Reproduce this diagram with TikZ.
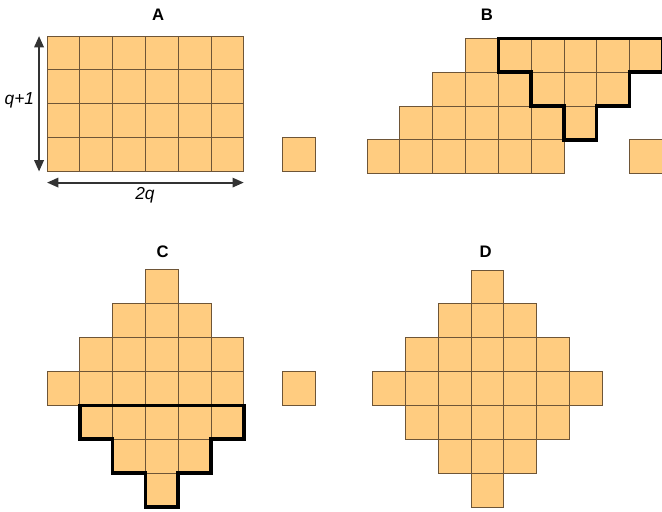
\documentclass[tikz,border=0pt]{standalone}
\usepackage{fontspec}
\setmainfont{Liberation Sans}
\definecolor{cellfill}{RGB}{255,204,128}
\definecolor{celledge}{RGB}{110,85,55}
\definecolor{dimgray}{RGB}{51,51,51}
\usetikzlibrary{arrows.meta}

\begin{document}
\begin{tikzpicture}[
  x=24.6pt, y=-25.4pt,
  cell/.style={fill=cellfill, draw=celledge, line width=0.6pt},
  outline/.style={draw=black, line width=2.6pt, line join=miter},
  dimarrow/.style={draw=dimgray, line width=1.6pt, {Triangle[length=8.5pt,width=7pt]}-{Triangle[length=8.5pt,width=7pt]}},
  panel/.style={font=\fontsize{12.5}{14}\selectfont\bfseries},
  dimlabel/.style={font=\fontsize{13}{15}\selectfont\itshape}
]
  \useasboundingbox (0,0) rectangle (20.18,15.10);
  %% A: rectangle 2q x (q+1)
  \node[panel] (lblA) at (4.82,0.44) {A};
  \foreach \r in {0,...,3}
    \foreach \c in {0,...,5}
      \draw[cell] ({1.433+\c},{1.062+\r}) rectangle ++(1,1);
  \draw[cell] (8.607,4.062) rectangle ++(1,1);
  \coordinate (qtop) at (1.19,1.062);
  \coordinate (qbot) at (1.19,5.065);
  \coordinate (wleft) at (1.433,5.39);
  \coordinate (wright) at (7.433,5.39);
  \draw[dimarrow] (qtop) -- (qbot);
  \draw[dimarrow] (wleft) -- (wright);
  \node[dimlabel] (lblq) at (0.59,2.95) {q+1};
  \node[dimlabel] (lbl2q) at (4.42,5.75) {2q};
  %% B: sheared rows
  \node[panel] (lblB) at (14.84,0.44) {B};
  \foreach \r in {0,...,3}
    \foreach \c in {0,...,5}
      \draw[cell] ({11.19+3-\r+\c},{1.13+\r}) rectangle ++(1,1);
  \draw[cell] (19.19,4.13) rectangle ++(1,1);
  \draw[outline] (15.19,1.13) -- ++(5,0) -- ++(0,1) -- ++(-1,0) -- ++(0,1)
    -- ++(-1,0) -- ++(0,1) -- ++(-1,0) -- ++(0,-1) -- ++(-1,0) -- ++(0,-1)
    -- ++(-1,0) -- cycle;
  %% C: triangle moved below
  \node[panel] (lblC) at (4.96,7.42) {C};
  \foreach \r/\s/\n in {0/3/1, 1/2/3, 2/1/5, 3/0/6, 4/1/5, 5/2/3, 6/3/1}
    \foreach \c in {1,...,\n}
      \draw[cell] ({1.433+\s+\c-1},{7.965+\r}) rectangle ++(1,1);
  \draw[cell] (8.607,10.965) rectangle ++(1,1);
  \draw[outline] (2.433,11.965) -- ++(5,0) -- ++(0,1) -- ++(-1,0) -- ++(0,1)
    -- ++(-1,0) -- ++(0,1) -- ++(-1,0) -- ++(0,-1) -- ++(-1,0) -- ++(0,-1)
    -- ++(-1,0) -- cycle;
  %% D: diamond
  \node[panel] (lblD) at (14.80,7.42) {D};
  \foreach \r/\s/\n in {0/3/1, 1/2/3, 2/1/5, 3/0/7, 4/1/5, 5/2/3, 6/3/1}
    \foreach \c in {1,...,\n}
      \draw[cell] ({11.36+\s+\c-1},{7.97+\r}) rectangle ++(1,1);
\end{tikzpicture}
\end{document}
